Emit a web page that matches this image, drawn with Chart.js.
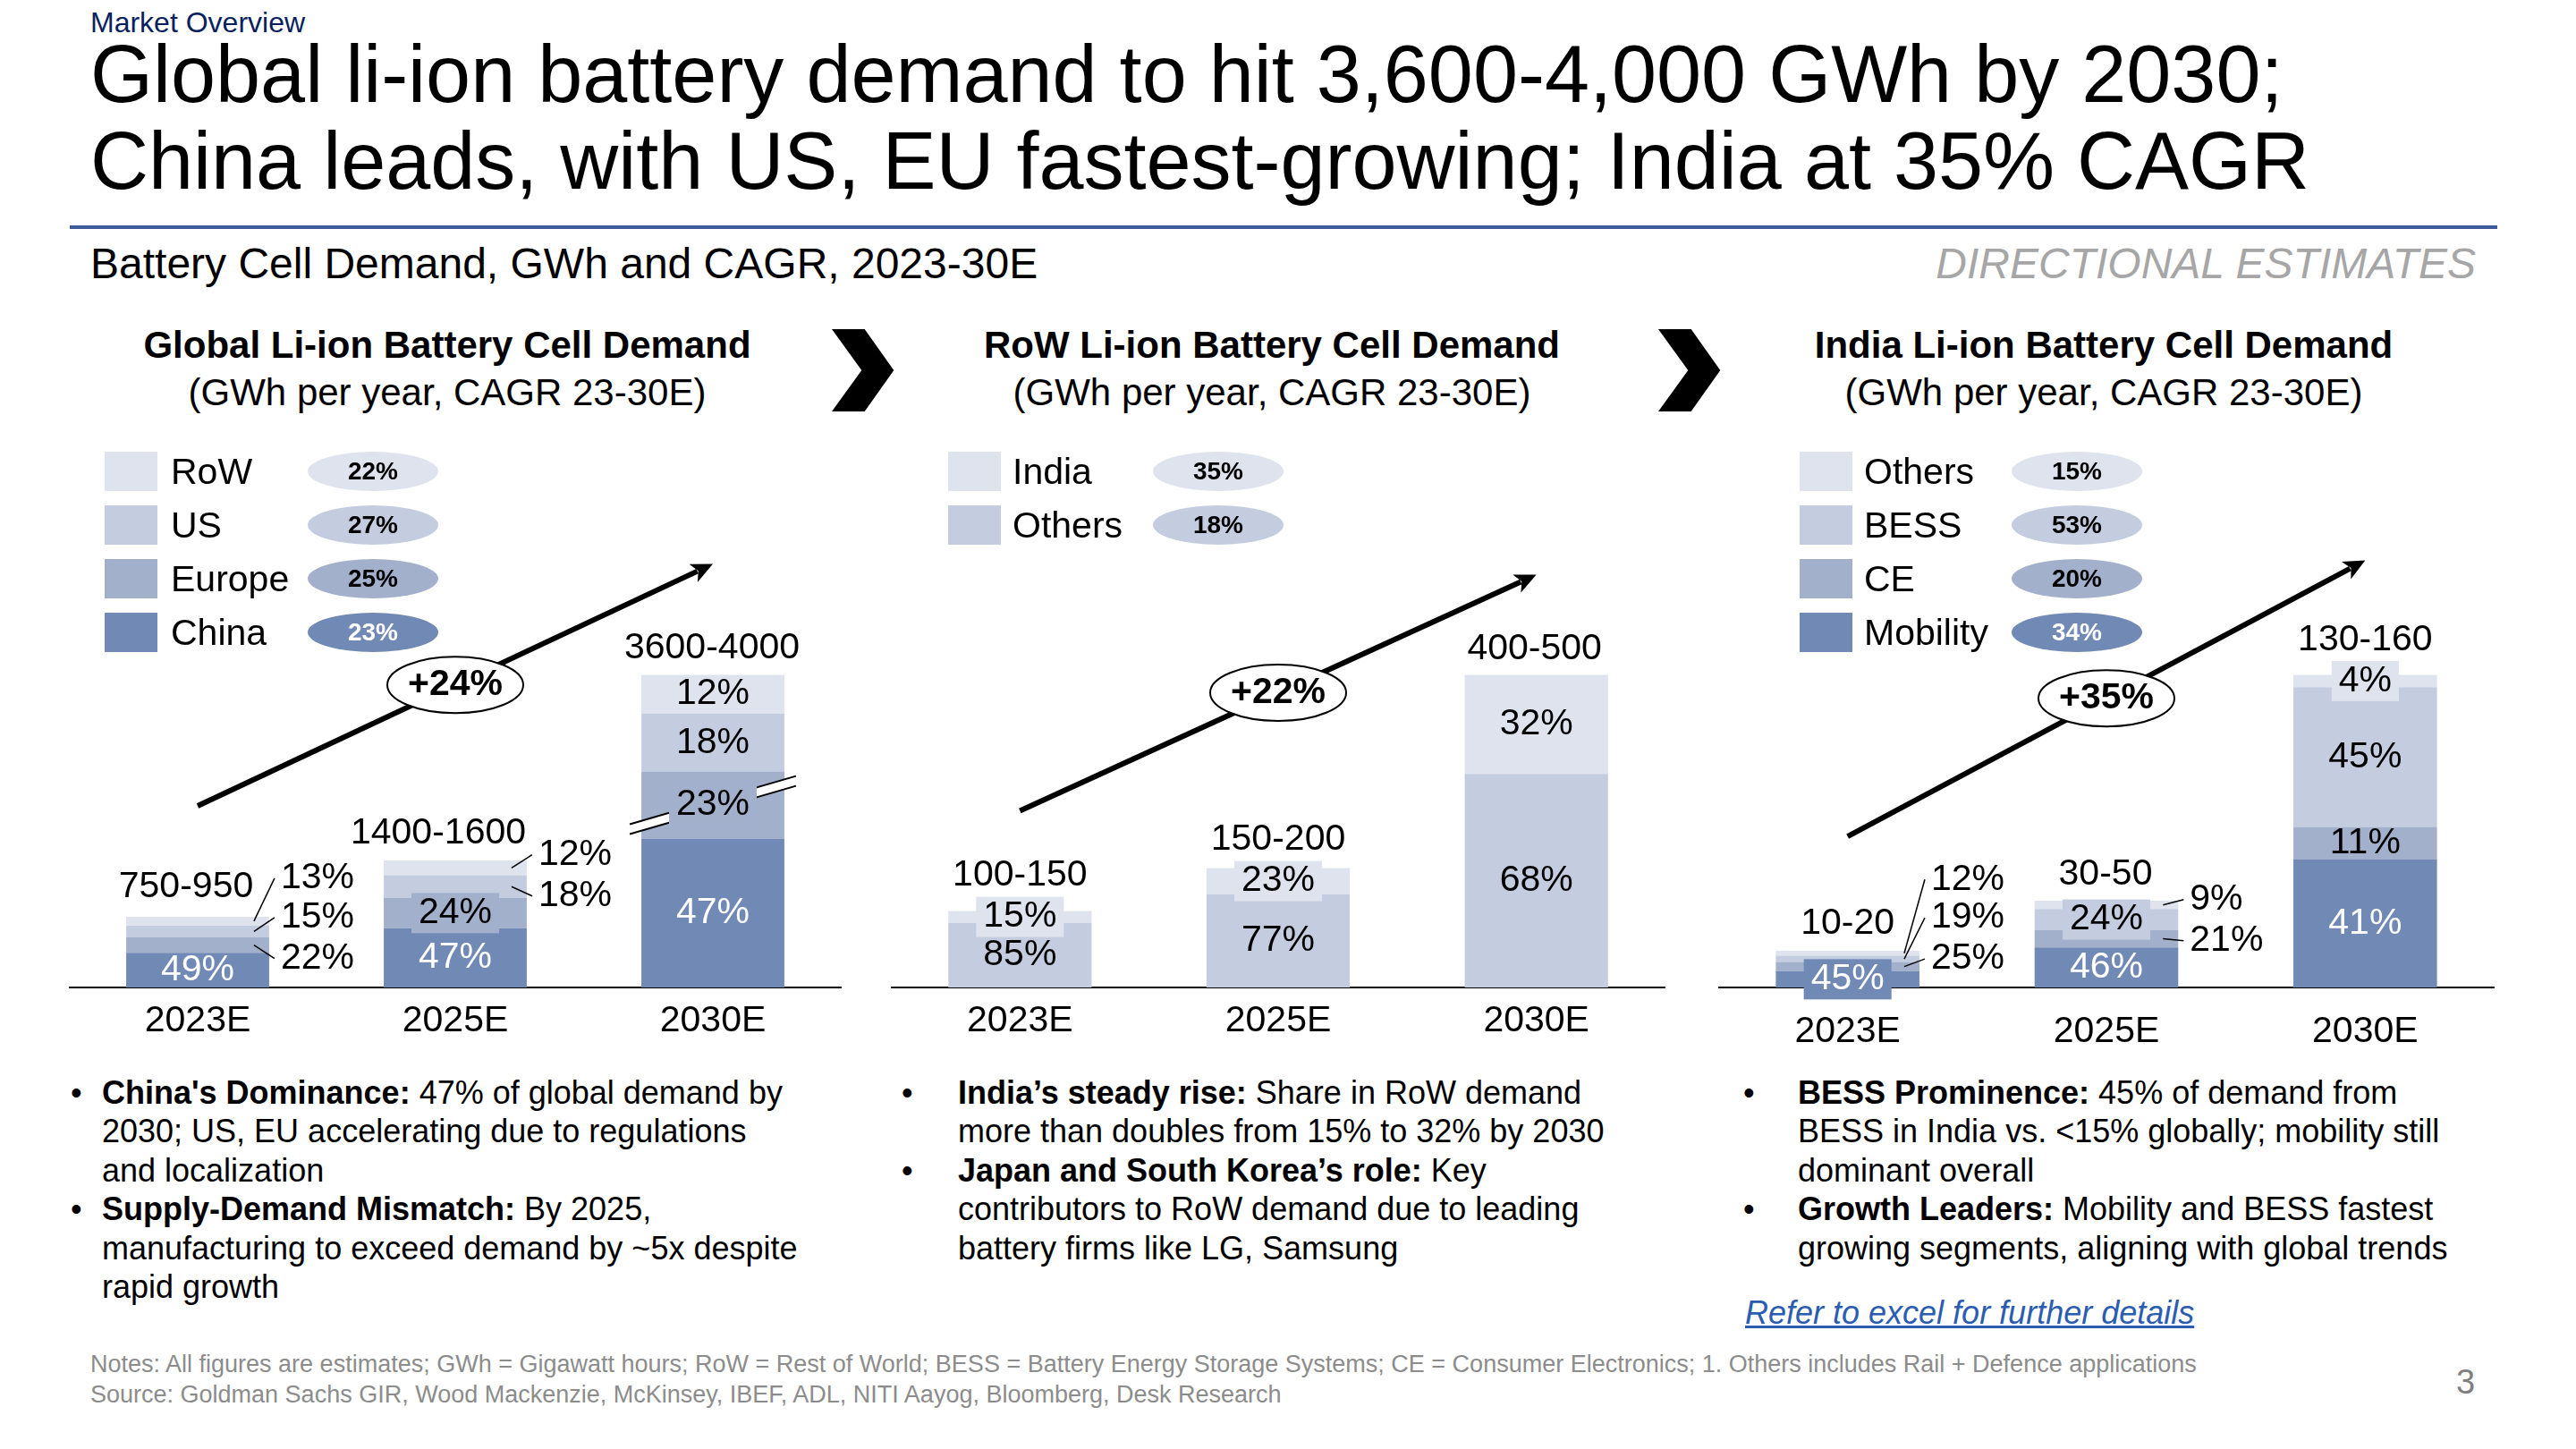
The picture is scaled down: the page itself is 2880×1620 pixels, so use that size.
<!DOCTYPE html>
<html><head><meta charset="utf-8">
<script src="https://cdn.jsdelivr.net/npm/chart.js@4.4.1/dist/chart.umd.min.js"></script>
<style>
html,body{margin:0;padding:0;background:#fff;}
body{width:2880px;height:1620px;position:relative;overflow:hidden;font-family:"Liberation Sans",Arial,Helvetica,sans-serif;color:#000;}
.t{position:absolute;white-space:nowrap;}
.cv{position:absolute;}
.sq{position:absolute;width:59px;height:44px;}
.ell{position:absolute;width:146px;height:44px;border-radius:50%;display:flex;align-items:center;justify-content:center;font-weight:bold;font-size:28px;}
.chev{position:absolute;width:70px;height:92px;background:#000;clip-path:polygon(0 0,36.7px 0,69.3px 46px,36.7px 92px,0 92px,33.3px 46px);}
.bul{position:absolute;font-size:36px;line-height:43.4px;white-space:nowrap;}
.bul .d{position:absolute;}
</style></head>
<body>
<div class="t" style="left:101px;top:5.5px;font-size:32px;line-height:38px;color:#0b1f5e;">Market Overview</div>
<div class="t" style="left:101px;top:35px;font-size:90px;line-height:97px;">Global li-ion battery demand to hit 3,600-4,000 GWh by 2030;<br>China leads, with US, EU fastest-growing; India at 35% CAGR</div>
<div style="position:absolute;left:78px;top:252px;width:2714px;height:4px;background:#3d5a9b;"></div>
<div class="t" style="left:101px;top:267px;font-size:48px;line-height:56px;">Battery Cell Demand, GWh and CAGR, 2023-30E</div>
<div class="t" style="right:112px;top:267px;font-size:48px;line-height:56px;font-style:italic;color:#a6a6a6;">DIRECTIONAL ESTIMATES</div>

<div class="t" style="left:0px;width:1000px;text-align:center;top:360px;font-size:42px;line-height:52.6px;"><b>Global Li-ion Battery Cell Demand</b><br>(GWh per year, CAGR 23-30E)</div>
<div class="t" style="left:922px;width:1000px;text-align:center;top:360px;font-size:42px;line-height:52.6px;"><b>RoW Li-ion Battery Cell Demand</b><br>(GWh per year, CAGR 23-30E)</div>
<div class="t" style="left:1852px;width:1000px;text-align:center;top:360px;font-size:42px;line-height:52.6px;"><b>India Li-ion Battery Cell Demand</b><br>(GWh per year, CAGR 23-30E)</div>

<div class="chev" style="left:930px;top:368px;"></div>
<div class="chev" style="left:1854px;top:368px;"></div>

<div class="cv" style="left:77px;top:480px;width:864px;height:700px;"><canvas id="cGlobal"></canvas></div>
<div class="cv" style="left:996px;top:480px;width:866px;height:700px;"><canvas id="cRow"></canvas></div>
<div class="cv" style="left:1921px;top:480px;width:868px;height:700px;"><canvas id="cIndia"></canvas></div>

<div id="legends"></div>

<div class="bul" style="left:114px;top:1200px;">
<span class="d" style="left:-35px;">•</span><b>China's Dominance:</b> 47% of global demand by<br>2030; US, EU accelerating due to regulations<br>and localization<br>
<span class="d" style="left:-35px;top:130.2px;">•</span><b>Supply-Demand Mismatch:</b> By 2025,<br>manufacturing to exceed demand by ~5x despite<br>rapid growth</div>
<div class="bul" style="left:1071px;top:1200px;">
<span class="d" style="left:-63px;">•</span><b>India’s steady rise:</b> Share in RoW demand<br>more than doubles from 15% to 32% by 2030<br>
<span class="d" style="left:-63px;top:86.8px;">•</span><b>Japan and South Korea’s role:</b> Key<br>contributors to RoW demand due to leading<br>battery firms like LG, Samsung</div>
<div class="bul" style="left:2010px;top:1200px;">
<span class="d" style="left:-61px;">•</span><b>BESS Prominence:</b> 45% of demand from<br>BESS in India vs. &lt;15% globally; mobility still<br>dominant overall<br>
<span class="d" style="left:-61px;top:130.2px;">•</span><b>Growth Leaders:</b> Mobility and BESS fastest<br>growing segments, aligning with global trends</div>

<div class="t" style="left:1951px;top:1446px;font-size:36px;line-height:43.4px;font-style:italic;text-decoration:underline;color:#2a5db0;">Refer to excel for further details</div>
<div class="t" style="left:101px;top:1507.7px;font-size:27px;line-height:34.6px;color:#8c8c8c;">Notes: All figures are estimates; GWh = Gigawatt hours; RoW = Rest of World; BESS = Battery Energy Storage Systems; CE = Consumer Electronics; 1. Others includes Rail + Defence applications<br>Source: Goldman Sachs GIR, Wood Mackenzie, McKinsey, IBEF, ADL, NITI Aayog, Bloomberg, Desk Research</div>
<div class="t" style="left:2746px;top:1523px;font-size:38px;line-height:44px;color:#7f7f7f;">3</div>

<script>
// ---------- DATA ----------
const categories = ['2023E', '2025E', '2030E'];

// Global Li-ion battery cell demand, GWh by region
const globalSeries = ['China', 'Europe', 'US', 'RoW'];
const globalChina  = [422, 722, 1812];
const globalEurope = [188, 367, 817];
const globalUS     = [145, 278, 705];
const globalRoW    = [105, 178, 472];
const globalChinaShare  = ['49%', '47%', '47%'];
const globalEuropeShare = ['22%', '24%', '23%'];
const globalUSShare     = ['15%', '18%', '18%'];
const globalRoWShare    = ['13%', '12%', '12%'];
const globalRanges = ['750-950', '1400-1600', '3600-4000'];
const globalCagr = ['23%', '25%', '27%', '22%'];
const globalTotalCagr = '+24%';

// RoW demand, GWh
const rowSeries = ['Others', 'India'];
const rowOthers = [93, 134, 307.5];
const rowIndia  = [17, 38, 142.5];
const rowOthersShare = ['85%', '77%', '68%'];
const rowIndiaShare  = ['15%', '23%', '32%'];
const rowRanges = ['100-150', '150-200', '400-500'];
const rowCagr = ['18%', '35%'];
const rowTotalCagr = '+22%';

// India demand, GWh by segment
const indiaSeries = ['Mobility', 'CE', 'BESS', 'Others'];
const indiaMobility = [7.6, 18.6, 59.3];
const indiaCE       = [4.2, 8.0, 15.2];
const indiaBESS     = [2.9, 9.8, 64.8];
const indiaOthers   = [2.3, 3.8, 5.7];
const indiaMobilityShare = ['45%', '46%', '41%'];
const indiaCEShare       = ['25%', '21%', '11%'];
const indiaBESSShare     = ['19%', '24%', '45%'];
const indiaOthersShare   = ['12%', '9%', '4%'];
const indiaRanges = ['10-20', '30-50', '130-160'];
const indiaCagr = ['34%', '20%', '53%', '15%'];
const indiaTotalCagr = '+35%';

// ---------- STYLE ----------
const C4 = ['#7189b5', '#a2b0cc', '#c4cde0', '#dfe3ee'];
const C2 = ['#c4cde0', '#dfe3ee'];
const FONT = '"Liberation Sans", Arial, sans-serif';
Chart.defaults.font.family = FONT;

const overlay = {
  id: 'overlay',
  afterDatasetsDraw(chart, args, o) {
    const ctx = chart.ctx;
    const metas = chart.data.datasets.map((_, i) => chart.getDatasetMeta(i));
    const n = chart.data.labels.length;
    const bar = j => {
      const els = metas.map(m => m.data[j]);
      const x = els[0].x, w = els[0].width;
      return { x, left: x - w / 2, right: x + w / 2, top: Math.min(...els.map(e => e.y)), base: els[0].base };
    };
    ctx.save();
    // axis break band
    if (o.breakAt) {
      const [di, j] = o.breakAt;
      const el = metas[di].data[j], b = bar(j);
      const cy = (el.y + el.base) / 2, slope = -0.29, h = 5.5, x0 = b.left - 13, x1 = b.right + 13;
      const yA = (x, d) => cy + slope * (x - b.x) + d;
      ctx.beginPath();
      ctx.moveTo(x0, yA(x0, -h)); ctx.lineTo(x1, yA(x1, -h)); ctx.lineTo(x1, yA(x1, h)); ctx.lineTo(x0, yA(x0, h));
      ctx.closePath(); ctx.fillStyle = '#fff'; ctx.fill();
      ctx.strokeStyle = '#000'; ctx.lineWidth = 2;
      ctx.beginPath();
      ctx.moveTo(x0, yA(x0, -h)); ctx.lineTo(x1, yA(x1, -h));
      ctx.moveTo(x0, yA(x0, h)); ctx.lineTo(x1, yA(x1, h));
      ctx.stroke();
    }
    // segment labels
    ctx.font = '41px ' + FONT;
    ctx.textBaseline = 'middle';
    o.segText.forEach((texts, di) => texts.forEach((txt, j) => {
      const el = metas[di].data[j], b = bar(j);
      const cy = (el.y + el.base) / 2;
      const mode = o.modes[di][j];
      if (mode === 's') {
        const ly = cy + o.sideDy[di][j];
        ctx.strokeStyle = '#000'; ctx.lineWidth = 1.5;
        ctx.beginPath(); ctx.moveTo(b.right - 17, cy); ctx.lineTo(b.right + 6, ly); ctx.stroke();
        ctx.fillStyle = '#000'; ctx.textAlign = 'left';
        ctx.fillText(txt, b.right + 13, ly);
      } else {
        if (mode === 'b') {
          const w = ctx.measureText(txt).width + 16;
          ctx.fillStyle = chart.data.datasets[di].backgroundColor;
          ctx.fillRect(b.x - w / 2, cy - 22.5, w, 45);
        }
        ctx.fillStyle = (di === 0 && o.whiteFirst) ? '#fff' : '#000';
        ctx.textAlign = 'center';
        ctx.fillText(txt, b.x, cy);
      }
    }));
    // totals
    ctx.fillStyle = '#000'; ctx.textAlign = 'center';
    o.totals.forEach((txt, j) => { const b = bar(j); ctx.fillText(txt, b.x + o.totalDx[j], b.top + o.totalDy[j]); });
    // CAGR arrow
    const b0 = bar(0), b1 = bar(1), b2 = bar(n - 1);
    const sx = b0.x, sy = b0.top - o.arrowOff, ex = b2.x, ey = b2.top - o.arrowOff;
    const a = Math.atan2(ey - sy, ex - sx), ca = Math.cos(a), sa = Math.sin(a), hl = 24, hw = 11;
    ctx.strokeStyle = '#000'; ctx.lineWidth = 6;
    ctx.beginPath(); ctx.moveTo(sx, sy); ctx.lineTo(ex - hl * ca * 0.8, ey - hl * sa * 0.8); ctx.stroke();
    ctx.beginPath();
    ctx.moveTo(ex, ey);
    ctx.lineTo(ex - hl * ca + hw * sa, ey - hl * sa - hw * ca);
    ctx.lineTo(ex - hl * 0.75 * ca, ey - hl * 0.75 * sa);
    ctx.lineTo(ex - hl * ca - hw * sa, ey - hl * sa + hw * ca);
    ctx.closePath(); ctx.fillStyle = '#000'; ctx.fill();
    const mx = b1.x, my = sy + (ey - sy) * (mx - sx) / (ex - sx);
    ctx.beginPath(); ctx.ellipse(mx, my, 76, 31.5, 0, 0, Math.PI * 2);
    ctx.fillStyle = '#fff'; ctx.fill(); ctx.lineWidth = 2; ctx.strokeStyle = '#000'; ctx.stroke();
    ctx.font = 'bold 41px ' + FONT; ctx.fillStyle = '#000'; ctx.textAlign = 'center';
    ctx.fillText(o.cagr, mx, my);
    ctx.restore();
  }
};

function makeChart(id, series, dataArrs, colors, yMax, tickPad, ov) {
  return new Chart(document.getElementById(id), {
    type: 'bar',
    data: {
      labels: categories,
      datasets: dataArrs.map((d, i) => ({ label: series[i], data: d, backgroundColor: colors[i], borderWidth: 0, barPercentage: 0.555, categoryPercentage: 1 }))
    },
    options: {
      responsive: true, maintainAspectRatio: false, animation: false,
      layout: { padding: 0 },
      plugins: { legend: { display: false }, tooltip: { enabled: false }, overlay: ov },
      scales: {
        x: { stacked: true, grid: { display: false, drawTicks: false }, border: { display: true, color: '#000', width: 2 },
             ticks: { color: '#000', font: { size: 41 }, padding: tickPad }, afterFit: s => { s.height = 76; } },
        y: { stacked: true, display: false, min: 0, max: yMax }
      }
    },
    plugins: [overlay]
  });
}

makeChart('cGlobal', globalSeries, [globalChina, globalEurope, globalUS, globalRoW], C4, 6795, 13, {
  segText: [globalChinaShare, globalEuropeShare, globalUSShare, globalRoWShare],
  modes: [['c', 'c', 'c'], ['s', 'b', 'b'], ['s', 's', 'c'], ['s', 's', 'c']],
  sideDy: [[0, 0, 0], [15, 0, 0], [-15.5, 10.5, 0], [-48, -14.6, 0]],
  whiteFirst: true,
  totals: globalRanges, totalDx: [-13, -19, -1], totalDy: [-33, -30, -30],
  arrowOff: 124, cagr: globalTotalCagr, breakAt: [1, 2]
});
makeChart('cRow', rowSeries, [rowOthers, rowIndia], C2, 803.4, 13, {
  segText: [rowOthersShare, rowIndiaShare],
  modes: [['c', 'c', 'c'], ['b', 'b', 'c']],
  sideDy: [[0, 0, 0], [0, 0, 0]],
  whiteFirst: false,
  totals: rowRanges, totalDx: [0, 0, -2], totalDy: [-40, -32, -29],
  arrowOff: 112, cagr: rowTotalCagr, breakAt: null
});
makeChart('cIndia', indiaSeries, [indiaMobility, indiaCE, indiaBESS, indiaOthers], C4, 258.9, 25, {
  segText: [indiaMobilityShare, indiaCEShare, indiaBESSShare, indiaOthersShare],
  modes: [['b', 'c', 'c'], ['s', 's', 'c'], ['s', 'b', 'c'], ['s', 's', 'b']],
  sideDy: [[0, 0, 0], [-8.5, 2.3, 0], [-46, 0, 0], [-82.5, -6, 0]],
  whiteFirst: true,
  totals: indiaRanges, totalDx: [0, -1, 0], totalDy: [-30, -29, -39],
  arrowOff: 128, cagr: indiaTotalCagr, breakAt: null
});

// ---------- LEGENDS (HTML) ----------
function legend(series, cagr, colors, xs, whiteIdx) {
  const host = document.getElementById('legends');
  const rows = series.map((s, i) => i).reverse();
  rows.forEach((i, r) => {
    const cy = 527 + r * 60;
    const sq = document.createElement('div'); sq.className = 'sq';
    sq.style.left = xs[0] + 'px'; sq.style.top = (cy - 22) + 'px'; sq.style.background = colors[i];
    const lb = document.createElement('div'); lb.className = 't';
    lb.style.cssText = `left:${xs[1]}px;top:${cy - 24}px;font-size:41px;line-height:48px;`;
    lb.textContent = series[i];
    const el = document.createElement('div'); el.className = 'ell';
    el.style.left = xs[2] + 'px'; el.style.top = (cy - 22) + 'px'; el.style.background = colors[i];
    el.style.color = i === whiteIdx ? '#fff' : '#000';
    el.textContent = cagr[i];
    host.append(sq, lb, el);
  });
}
legend(globalSeries, globalCagr, C4, [117, 191, 344], 0);
legend(rowSeries, rowCagr, C2, [1060, 1132, 1289], -1);
legend(indiaSeries, indiaCagr, C4, [2012, 2084, 2249], 0);
</script>
</body></html>
